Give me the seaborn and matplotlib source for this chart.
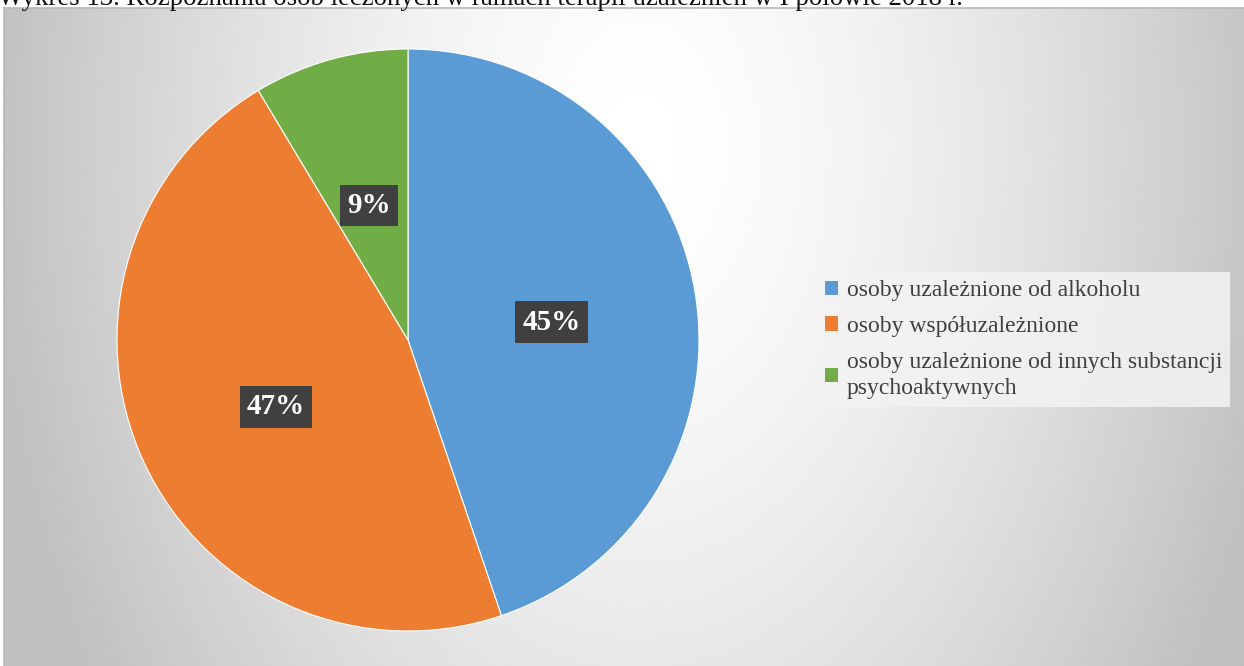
import numpy as np
import matplotlib
matplotlib.use("Agg")
import matplotlib.pyplot as plt
from matplotlib.patches import Patch
import seaborn as sns

# Diagnoses of patients treated in addiction therapy (shares, %)
categories = [
    "osoby uzależnione od alkoholu",
    "osoby współuzależnione",
    "osoby uzależnione od innych substancji\npsychoaktywnych",
]
shares = [44.8, 46.6, 8.6]
title = "Wykres 13. Rozpoznania osób leczonych w ramach terapii uzależnień w I połowie 2018 r."

sns.set_theme(style="white")
plt.rcParams["font.family"] = ["Liberation Serif", "DejaVu Serif"]

colors = sns.color_palette(["#5B9BD5", "#ED7D31", "#70AD47"])

W, H = 1244, 666
fig = plt.figure(figsize=(W / 100, H / 100), dpi=100)
fig.patch.set_facecolor("white")

# Chart area with a soft radial gray gradient
x0, top = 4, 8
bg = fig.add_axes([x0 / W, 0, 1 - x0 / W, (H - top) / H])
gx = np.linspace(x0, W, 400)
gy = np.linspace(top, H, 220)
X, Y = np.meshgrid(gx, gy)
d = np.sqrt(((X - 640) / 660) ** 2 + ((Y - 150) / 1000) ** 2)
v = (255 - 64 * np.clip(d, 0, 1) ** 1.5) / 255
bg.imshow(v, cmap="gray", vmin=0, vmax=1, aspect="auto",
          extent=[0, 1, 0, 1], interpolation="bilinear")
bg.set_xticks([])
bg.set_yticks([])
for side, sp in bg.spines.items():
    sp.set_color("#b8b8b8")
    sp.set_linewidth(1.2)
    if side in ("right", "bottom"):
        sp.set_visible(False)

# Caption line at the very top of the page
fig.text(-0.002, 1 - 5 / H, title, fontsize=19.3, color="#111111",
         ha="left", va="baseline", zorder=0)

# Pie
cx, cy, r = 408, 340, 291
ax = fig.add_axes([(cx - r) / W, (H - cy - r) / H, 2 * r / W, 2 * r / H])
ax.set_facecolor("none")
wedges, _, autotexts = ax.pie(
    shares, colors=colors, startangle=90, counterclock=False,
    autopct="%.0f%%", pctdistance=0.5, radius=1,
    wedgeprops=dict(edgecolor="white", linewidth=0.8),
    textprops=dict(color="white", fontsize=21, fontweight="bold"),
)
for t in autotexts:
    px, py = t.get_position()
    t.set_position((px, py - 0.02))
    t.set_bbox(dict(boxstyle="square,pad=0.25", facecolor="#404040",
                    edgecolor="none"))
ax.set_xlim(-1, 1)
ax.set_ylim(-1, 1)
ax.set_aspect("equal")
ax.axis("off")

# Legend
handles = [Patch(facecolor=c, edgecolor="none") for c in colors]
leg = fig.legend(
    handles, categories, loc="upper left",
    bbox_to_anchor=(817 / W, 1 - 272 / H),
    frameon=True, fontsize=17, handlelength=0.55, handleheight=0.55,
    handletextpad=0.35, labelspacing=0.62, borderpad=0.35,
    borderaxespad=0, fancybox=False,
)
leg.get_frame().set_facecolor("#f3f3f3")
leg.get_frame().set_edgecolor("none")
leg.get_frame().set_alpha(0.85)
for t in leg.get_texts():
    t.set_color("#404040")
    t.set_linespacing(1.35)

fig.savefig("out.png", dpi=100)
